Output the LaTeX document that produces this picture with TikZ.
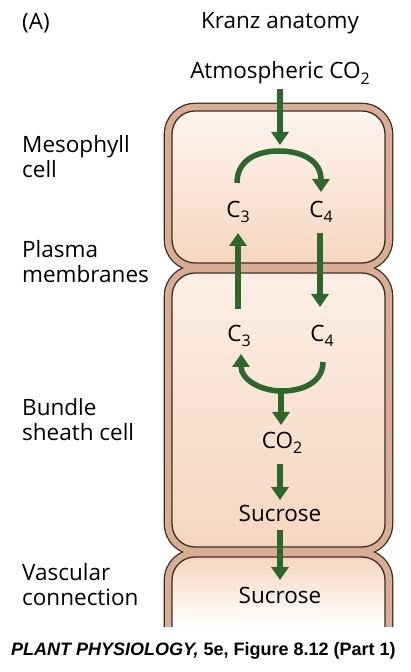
\documentclass[tikz,border=0pt]{standalone}
\usepackage{fontspec}
\setmainfont{Open Sans}
\newfontfamily\capfont{Liberation Sans}
\usetikzlibrary{arrows.meta}
\definecolor{arrowgreen}{RGB}{47,102,44}
\definecolor{wallc}{RGB}{217,173,147}
\definecolor{linec}{RGB}{60,44,36}
\definecolor{celltop}{RGB}{253,245,239}
\definecolor{cellbot}{RGB}{246,214,192}
\newcommand\subs[1]{\raisebox{-0.45ex}{\fontsize{16}{16}\selectfont #1}}
\tikzset{
  flow/.style={draw=arrowgreen, line width=5.5pt, -{Triangle[width=17pt,length=13pt]}},
  lbl/.style={inner sep=0pt, align=left, anchor=west, font=\fontsize{22.5}{25}\selectfont},
  txt/.style={inner sep=0pt, font=\fontsize{22.5}{25}\selectfont},
  walldraw/.style={draw=linec, line width=2.6pt, rounded corners=30pt},
  wallfill/.style={fill=wallc, rounded corners=30pt},
  inner/.style={draw=linec, line width=1.3pt, rounded corners=23pt, top color=celltop, bottom color=cellbot}
}
\begin{document}
\begin{tikzpicture}[x=1pt,y=1pt]
\useasboundingbox (0,0) rectangle (410,672);
\fill[white] (0,0) rectangle (410,672);
% cell walls: outlines first, then fills (union)
\draw[walldraw] (165,402) rectangle (392,568);
\draw[walldraw] (165,118) rectangle (392,406);
\draw[draw=linec, line width=2.6pt] (165,45) -- (165,92) arc[start angle=180,end angle=90,radius=30] -- (362,122) arc[start angle=90,end angle=0,radius=30] -- (392,45);
\fill[wallfill] (165,402) rectangle (392,568);
\fill[wallfill] (165,118) rectangle (392,406);
\fill[wallc] (165,45) -- (165,92) arc[start angle=180,end angle=90,radius=30] -- (362,122) arc[start angle=90,end angle=0,radius=30] -- (392,45) -- cycle;
% inner cells
\path[inner] (172,409) rectangle (385,561);
\path[inner, top color=celltop!80!cellbot, bottom color=cellbot] (172,125) rectangle (385,399);
\shade[top color=cellbot, bottom color=white] (172,45) -- (172,92) arc[start angle=180,end angle=90,radius=23] -- (362,115) arc[start angle=90,end angle=0,radius=23] -- (385,45) -- cycle;
\draw[draw=linec, line width=1.3pt] (172,45) -- (172,92) arc[start angle=180,end angle=90,radius=23] -- (362,115) arc[start angle=90,end angle=0,radius=23] -- (385,45);

% text
\node[lbl] (A) at (22,649) {(A)};
\node[txt] (kranz) at (280,649) {Kranz anatomy};
\node[txt] (atm) at (280,599) {Atmospheric CO\subs{2}};
\node[lbl] (meso) at (22,515) {Mesophyll\\cell};
\node[lbl] (plasma) at (22,410) {Plasma\\membranes};
\node[lbl] (bundle) at (22,252) {Bundle\\sheath cell};
\node[lbl] (vasc) at (22,87) {Vascular\\connection};
\node[txt] (c3a) at (238,460) {C\subs{3}};
\node[txt] (c4a) at (321,460) {C\subs{4}};
\node[txt] (c3b) at (239,336) {C\subs{3}};
\node[txt] (c4b) at (322,336) {C\subs{4}};
\node[txt] (co2) at (282,229) {CO\subs{2}};
\node[txt] (suc1) at (280,159) {Sucrose};
\node[txt] (suc2) at (280,77) {Sucrose};
\node[inner sep=0pt, anchor=west, font=\capfont\fontsize{18}{20}\selectfont\bfseries] (cap) at (11,21) {\itshape PLANT PHYSIOLOGY,\upshape{} 5e, Figure 8.12 (Part 1)};

% arrows
\coordinate (atmtip) at (280,527);
\draw[flow] (280,583) -- (atmtip);
\coordinate (arcL) at (237,489);
\coordinate (arcR) at (321,480);
\draw[flow] (arcL) .. controls (237,512) and (257,521) .. (279,521) .. controls (301,521) and (321,512) .. (arcR);
\coordinate (upS) at (238,363);
\coordinate (upE) at (238,439);
\draw[flow] (upS) -- (upE);
\coordinate (dnS) at (320,439);
\coordinate (dnE) at (320,365);
\draw[flow] (dnS) -- (dnE);
\coordinate (barcR) at (323,310);
\coordinate (barcL) at (241,318);
\draw[flow] (barcR) .. controls (323,290) and (303,281) .. (282,281) .. controls (261,281) and (241,292) .. (barcL);
\coordinate (stemS) at (281,284);
\coordinate (stemE) at (281,247);
\draw[flow] (stemS) -- (stemE);
\draw[flow] (280,208) -- (280,172);
\draw[flow] (280,142) -- (280,92);
\end{tikzpicture}
\end{document}
